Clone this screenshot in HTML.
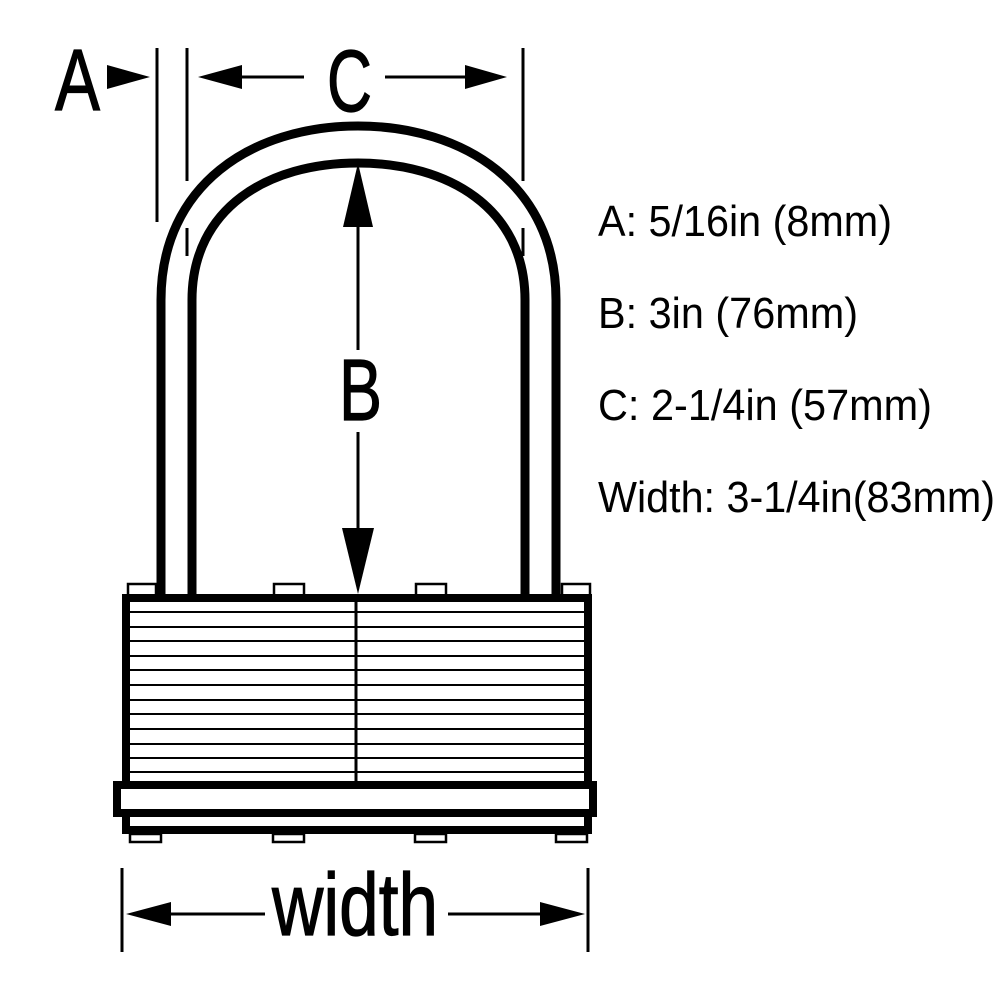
<!DOCTYPE html>
<html><head><meta charset="utf-8"><style>html,body{margin:0;padding:0;background:#fff}svg{display:block}</style></head>
<body>
<svg width="1000" height="1000" viewBox="0 0 1000 1000" xmlns="http://www.w3.org/2000/svg">
<rect width="1000" height="1000" fill="#fff"/>
<g fill="none" stroke="#000">
<path d="M161,600 L161,300 C161,185 252,126 358,126 C464,126 556,185 556,300 L556,600" stroke-width="9"/>
<path d="M192,600 L192,300 C192,208 268,163 358,163 C448,163 525,208 525,300 L525,600" stroke-width="9"/>
<rect x="128" y="584" width="28" height="12" stroke-width="2.5"/>
<rect x="274" y="584" width="30" height="12" stroke-width="2.5"/>
<rect x="416" y="584" width="30" height="12" stroke-width="2.5"/>
<rect x="562" y="584" width="28" height="12" stroke-width="2.5"/>
</g>
<rect x="126" y="598" width="462" height="190" fill="#fff" stroke="#000" stroke-width="8"/>
<g stroke="#000" stroke-width="2">
<line x1="130" y1="612" x2="584" y2="612"/><line x1="130" y1="627" x2="584" y2="627"/>
<line x1="130" y1="641" x2="584" y2="641"/><line x1="130" y1="656" x2="584" y2="656"/>
<line x1="130" y1="670" x2="584" y2="670"/><line x1="130" y1="685" x2="584" y2="685"/>
<line x1="130" y1="700" x2="584" y2="700"/><line x1="130" y1="714" x2="584" y2="714"/>
<line x1="130" y1="729" x2="584" y2="729"/><line x1="130" y1="744" x2="584" y2="744"/>
<line x1="130" y1="758" x2="584" y2="758"/><line x1="130" y1="772" x2="584" y2="772"/>
</g>
<line x1="356" y1="598" x2="356" y2="787" stroke="#000" stroke-width="3"/>
<rect x="126" y="805" width="462" height="25" fill="#fff" stroke="#000" stroke-width="8"/>
<rect x="117" y="785" width="476" height="28" fill="#fff" stroke="#000" stroke-width="8"/>
<g fill="none" stroke="#000" stroke-width="2.5">
<rect x="130" y="834" width="31" height="8"/><rect x="273" y="834" width="31" height="8"/>
<rect x="415" y="834" width="31" height="8"/><rect x="556" y="834" width="31" height="8"/>
</g>
<g stroke="#000" stroke-width="3">
<line x1="157" y1="48" x2="157" y2="222"/>
<line x1="187" y1="48" x2="187" y2="181"/>
<line x1="187" y1="228" x2="187" y2="256"/>
<line x1="523" y1="48" x2="523" y2="181"/>
<line x1="523" y1="228" x2="523" y2="256"/>
<line x1="230" y1="77" x2="304" y2="77"/>
<line x1="385" y1="77" x2="475" y2="77"/>
<line x1="358" y1="220" x2="358" y2="350"/>
<line x1="358" y1="432" x2="358" y2="535"/>
<line x1="122" y1="868" x2="122" y2="952"/>
<line x1="588" y1="868" x2="588" y2="952"/>
<line x1="160" y1="914" x2="265" y2="914"/>
<line x1="448" y1="914" x2="550" y2="914"/>
</g>
<g fill="#000">
<polygon points="107,65 150,77 107,89"/>
<polygon points="198,77 242,65 242,89"/>
<polygon points="507,77 465,65 465,89"/>
<polygon points="358,163 343,227 373,227"/>
<polygon points="358,594 342,528 374,528"/>
<polygon points="126,914 171,902 171,926"/>
<polygon points="585,914 540,902 540,926"/>
</g>
<g font-family="Liberation Sans, Arial, sans-serif" fill="#000" stroke="#000" stroke-width="1.2">
<text x="55" y="110" font-size="87" textLength="45" lengthAdjust="spacingAndGlyphs">A</text>
<text x="327" y="111" font-size="87" textLength="45" lengthAdjust="spacingAndGlyphs">C</text>
<text x="339" y="420" font-size="87" textLength="43" lengthAdjust="spacingAndGlyphs">B</text>
<text x="272" y="935" font-size="88" textLength="166" lengthAdjust="spacingAndGlyphs">width</text>
</g>
<g font-family="Liberation Sans, Arial, sans-serif" fill="#000">
<text x="598" y="236" font-size="44" textLength="294" lengthAdjust="spacingAndGlyphs">A: 5/16in (8mm)</text>
<text x="598" y="328" font-size="44" textLength="260" lengthAdjust="spacingAndGlyphs">B: 3in (76mm)</text>
<text x="598" y="420" font-size="44" textLength="334" lengthAdjust="spacingAndGlyphs">C: 2-1/4in (57mm)</text>
<text x="598" y="512" font-size="44" textLength="397" lengthAdjust="spacingAndGlyphs">Width: 3-1/4in(83mm)</text>
</g>
</svg>
</body></html>
